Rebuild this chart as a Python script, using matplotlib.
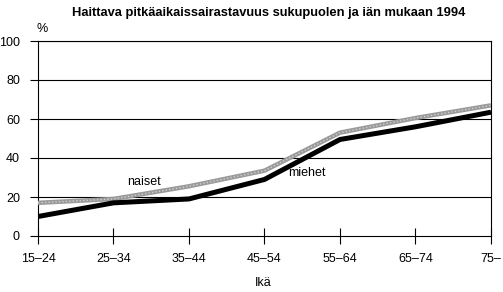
import matplotlib
matplotlib.use("Agg")
import matplotlib.pyplot as plt
from matplotlib import font_manager

fams = {f.name for f in font_manager.fontManager.ttflist}
narrow = 'Liberation Sans Narrow' if 'Liberation Sans Narrow' in fams else 'Liberation Sans'
plt.rcParams['font.family'] = [narrow, 'DejaVu Sans']

categories = ['15–24', '25–34', '35–44', '45–54', '55–64', '65–74', '75–']
miehet = [10, 17, 19, 29, 49.5, 56, 63.5]
naiset = [17, 19, 25.5, 33.5, 53, 60.5, 67]
yticks = [0, 20, 40, 60, 80, 100]

fig = plt.figure(figsize=(5.03, 2.92), dpi=100)
ax = fig.add_axes([38/503, 1-236/292, (491-38)/503, (236-41)/292])
x = list(range(len(categories)))

for v in yticks[1:]:
    ax.axhline(v, color='black', lw=0.8, zorder=1)

ax.plot(x, naiset, color='#9a9a9a', lw=3.2, zorder=3, solid_capstyle='butt')
ax.plot(x, naiset, color='#d0d0d0', lw=1.0, ls=(0, (1, 1.5)), zorder=4)
ax.plot(x, miehet, color='black', lw=3.6, zorder=5, solid_capstyle='butt')

ax.set_xlim(0, len(categories) - 1)
ax.set_ylim(0, 100)
ax.set_xticks(x)
ax.set_xticklabels(categories, fontsize=9)
ax.set_yticks(yticks)
ax.set_yticklabels([str(v) for v in yticks], fontsize=9)
ax.tick_params(axis='x', direction='inout', length=12, width=0.8, pad=6)
ax.tick_params(axis='y', direction='out', length=6, width=0.8, pad=7)
for s in ax.spines.values():
    s.set_linewidth(0.8)

ax.text(1.40, 27.7, 'naiset', fontsize=9, ha='center', va='center')
ax.text(3.56, 32.3, 'miehet', fontsize=9, ha='center', va='center')

fig.text(269/503, 1-16/292, 'Haittava pitkäaikaissairastavuus sukupuolen ja iän mukaan 1994',
         fontsize=9.3, fontweight='bold', ha='center', va='baseline')
fig.text(42/503, 1-29/292, '%', fontsize=9, ha='center', va='center')
fig.text(263/503, 1-283/292, 'Ikä', fontsize=9, ha='center', va='center')

fig.savefig('out.png', dpi=100)
